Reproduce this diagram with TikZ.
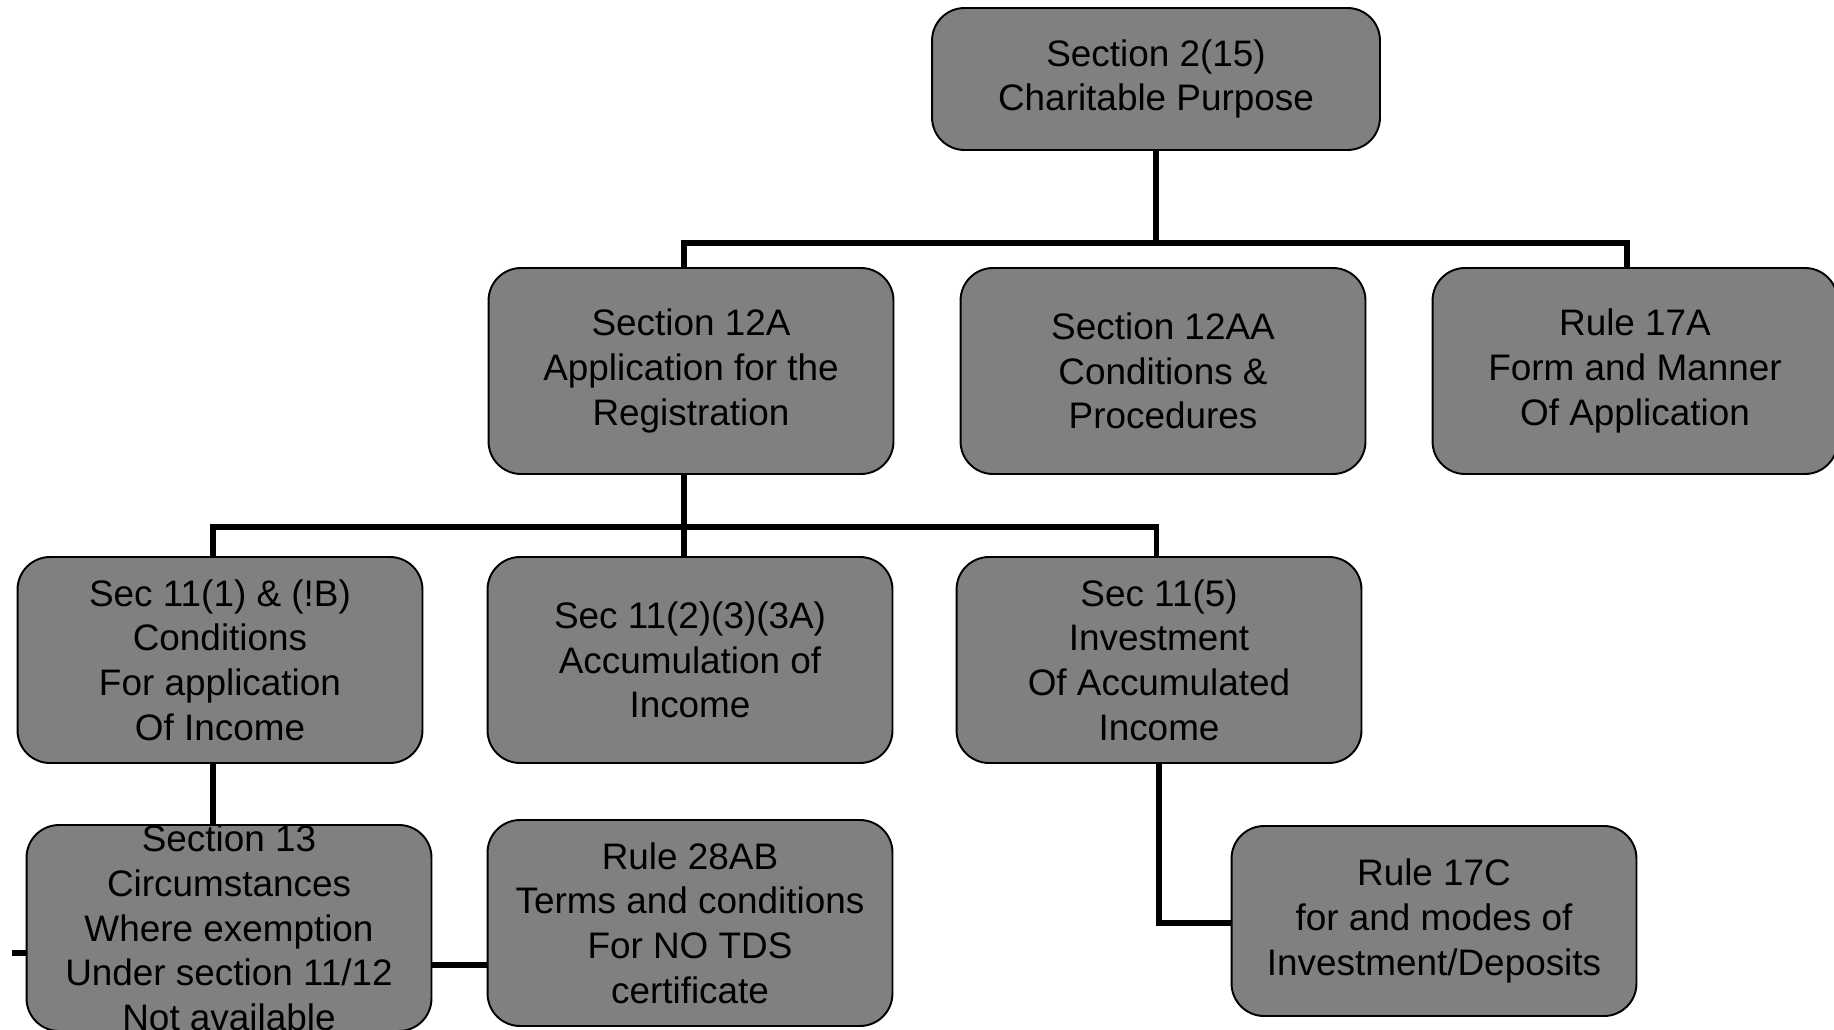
\documentclass[tikz,border=0pt]{standalone}
\usepackage{fontspec}
\setmainfont{Liberation Sans}
\usepackage{xcolor}
\usetikzlibrary{positioning}
\definecolor{boxgray}{RGB}{128, 128, 128}

\begin{document}
\begin{tikzpicture}[x=0.02cm, y=-0.02cm,
    box/.style={draw=black, line width=1.1pt, fill=boxgray, rounded corners=0.65cm,
        align=center, inner sep=0pt, minimum width=8.1cm, minimum height=4.12cm,
        font=\fontsize{21}{25.4}\selectfont},
    link/.style={line width=3.3pt}]
\useasboundingbox (0,0) rectangle (1834,1030);

% Top level
\node[box, minimum width=8.96cm, minimum height=2.84cm] (s215) at (1156,79) {Section 2(15)\\Charitable Purpose};

% Second level
\node[box] (s12a) at (691,371) {Section 12A\\Application for the\\Registration};
\node[box] (s12aa) at (1163,371) {Section 12AA\\Conditions \&\\Procedures};
\node[box] (r17a) at (1635,371) {Rule 17A\\Form and Manner\\Of Application};

% Third level
\node[box] (s111) at (220,660) {Sec 11(1) \& (!B)\\Conditions\\For application\\Of Income};
\node[box] (s112) at (690,660) {Sec 11(2)(3)(3A)\\Accumulation of\\Income};
\node[box] (s115) at (1159,660) {Sec 11(5)\\Investment\\Of Accumulated\\Income};

% Bottom level
\node[box] (s13) at (229,928) {Section 13\\Circumstances\\Where exemption\\Under section 11/12\\Not available};
\node[box] (r28ab) at (690,923) {Rule 28AB\\Terms and conditions\\For NO TDS\\certificate};
\node[box, minimum height=3.8cm] (r17c) at (1434,921) {Rule 17C\\for and modes of\\Investment/Deposits};

% Connectors
\coordinate (bus1) at (0,243);
\coordinate (bus2) at (0,527);
\coordinate (stub) at (12,953);
\draw[link] (s215.south) -- (s215.south |- bus1);
\draw[link] ([xshift=-0.14cm]s12a.north) |- (s215.south |- bus1) -| ([xshift=-0.16cm]r17a.north);
\draw[link] ([xshift=-0.14cm]s12a.south) -- ([xshift=-0.14cm]s12a.south |- s112.north);
\draw[link] ([xshift=-0.14cm]s111.north) |- ([xshift=-0.14cm]s12a.south |- bus2) -| ([xshift=-0.05cm]s115.north);
\draw[link] ([xshift=-0.14cm]s111.south) -- ([xshift=-0.14cm]s111.south |- s13.north);
\draw[link] (stub) -- (stub -| s13.west);
\draw[link] ([yshift=-0.74cm]s13.east) -- ([yshift=-0.74cm]s13.east -| r28ab.west);
\draw[link] (s115.south) |- ([yshift=-0.04cm]r17c.west);
\end{tikzpicture}
\end{document}
